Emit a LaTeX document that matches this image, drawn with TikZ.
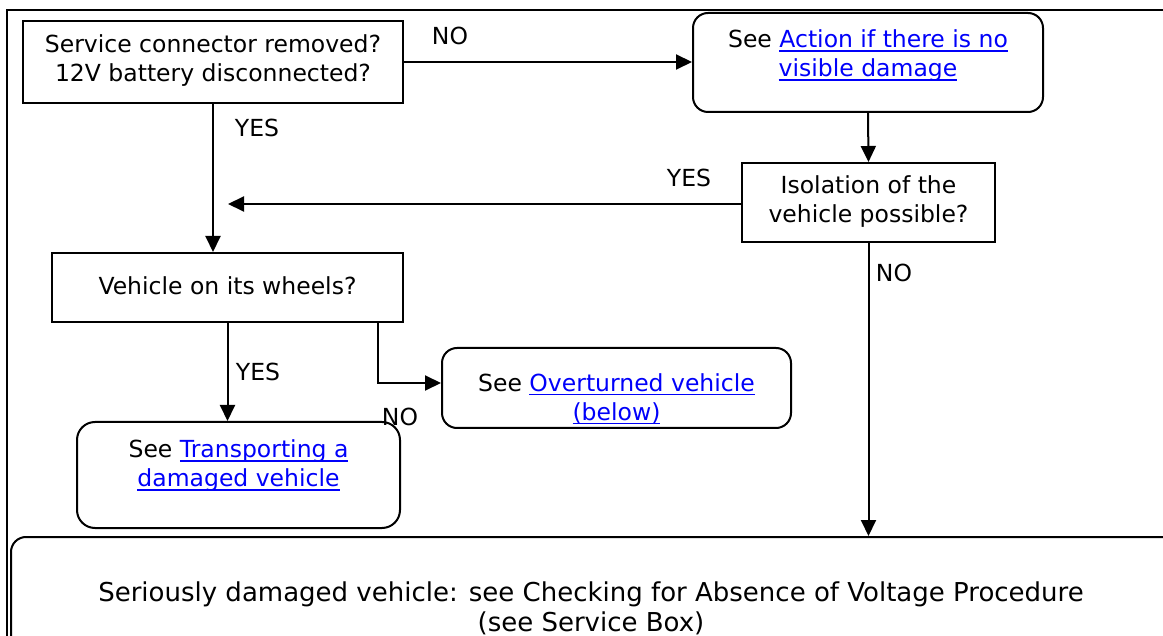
\documentclass[tikz,border=0pt]{standalone}
\usepackage{fontspec}
\setmainfont{DejaVu Sans}
\usetikzlibrary{arrows.meta}
\definecolor{lnk}{RGB}{0,0,250}
\newsavebox\lkbox
\newcommand\lk[1]{\sbox\lkbox{\color{lnk}#1}{\color{lnk}\rlap{\rule[-4pt]{\wd\lkbox}{1.5pt}}}\usebox\lkbox}
\begin{document}
\begin{tikzpicture}[x=1pt,y=-1pt,
  font=\fontsize{23.5}{29}\selectfont,
  box/.style={draw, line width=2pt, inner sep=0pt},
  rbox/.style={box, rounded corners=15pt},
  txt/.style={align=center, inner sep=0pt},
  lbl/.style={inner sep=0pt},
  arr/.style={line width=2pt, -{Triangle[length=16pt,width=15pt]}}]
\useasboundingbox (0,0) rectangle (1163,636);
\clip (0,0) rectangle (1163,636);
% outer frame
\draw[line width=2.6pt] (7,660) -- (7,10) -- (1180,10);
% boxes
\node[box, minimum width=380, minimum height=82] (q1) at (213,62) {};
\node[txt] (t1) at (213,61) {Service connector removed?\\12V battery disconnected?};
\node[rbox, minimum width=350, minimum height=99] (b2) at (868,62.5) {};
\node[txt] (t2) at (868,56) {See \lk{Action if there is no}\\\lk{visible damage}};
\node[box, minimum width=253, minimum height=79] (q3) at (868.5,202.5) {};
\node[txt] (t3) at (868.5,202) {Isolation of the\\vehicle possible?};
\node[box, minimum width=351, minimum height=69] (q4) at (227.5,287.5) {};
\node[txt] (t4) at (227.5,286) {Vehicle on its wheels?};
\node[rbox, minimum width=349, minimum height=80] (b5) at (616.5,388) {};
\node[txt] (t5) at (616.5,399) {See \lk{Overturned vehicle}\\\lk{(below)}};
\node[rbox, minimum width=323, minimum height=106, rounded corners=18pt] (b6) at (238.5,475) {};
\node[txt] (t6) at (238.5,466) {See \lk{Transporting a}\\\lk{damaged vehicle}};
\node[rbox, minimum width=1165, minimum height=130] (fin) at (593.5,602) {};
\node[txt, font=\fontsize{26}{29.5}\selectfont] (t7) at (591,608.5) {Seriously damaged vehicle: see Checking for Absence of Voltage Procedure\\(see Service Box)};
% connectors
\draw[arr] (q1.east) -- (q1.east -| b2.west);
\node[lbl] (l1) at (450,36) {NO};
\draw[arr] (b2.south) -- (q3.north);
\coordinate (yesend) at (228,204);
\draw[arr] (q3.west |- yesend) -- (yesend);
\node[lbl] (l2) at (689,178) {YES};
\draw[arr] (q1.south) -- (q1.south |- q4.north);
\node[lbl] (l3) at (257,128) {YES};
\draw[arr] (q4.south) -- (q4.south |- b6.north);
\node[lbl] (l4) at (258,372) {YES};
\draw[arr] ([xshift=150.5pt]q4.south) |- ([yshift=5pt]b5.west);
\node[lbl] (l5) at (400,417) {NO};
\draw[arr] (q3.south) -- (q3.south |- fin.north);
\node[lbl] (l6) at (894,273) {NO};
\end{tikzpicture}
\end{document}
